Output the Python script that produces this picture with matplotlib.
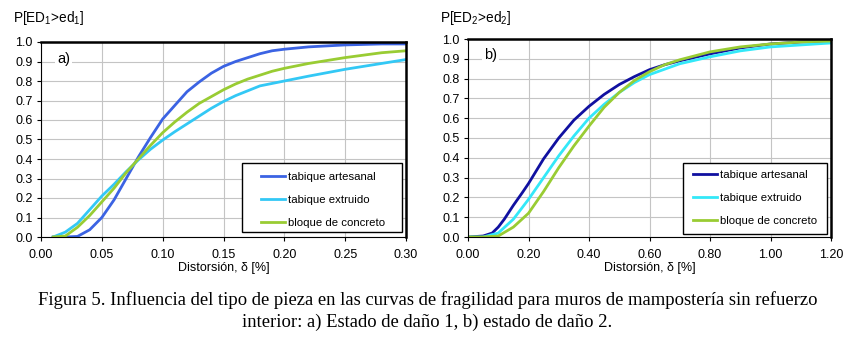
import matplotlib
matplotlib.use("Agg")
import matplotlib.pyplot as plt
from matplotlib.ticker import MultipleLocator, FormatStrFormatter
from matplotlib.patches import Rectangle

plt.rcParams['font.family'] = ['Liberation Sans', 'DejaVu Sans']
plt.rcParams['mathtext.fontset'] = 'custom'
plt.rcParams['mathtext.rm'] = 'Liberation Sans'
plt.rcParams['mathtext.it'] = 'Liberation Sans'

# Panel a) damage state 1
xa_art = [0.01, 0.02, 0.03, 0.04, 0.05, 0.06, 0.07, 0.08, 0.09, 0.10, 0.11, 0.12, 0.13, 0.14,
          0.15, 0.16, 0.17, 0.18, 0.19, 0.20, 0.22, 0.25, 0.28, 0.30]
ya_art = [0.0, 0.0, 0.003, 0.037, 0.10, 0.19, 0.30, 0.41, 0.51, 0.605, 0.675, 0.745, 0.795, 0.84,
          0.875, 0.90, 0.92, 0.94, 0.955, 0.963, 0.975, 0.985, 0.99, 0.99]
xa_ext = [0.01, 0.02, 0.03, 0.04, 0.05, 0.06, 0.07, 0.08, 0.09, 0.10, 0.11, 0.12, 0.13, 0.14,
          0.15, 0.16, 0.17, 0.18, 0.20, 0.22, 0.25, 0.28, 0.30]
ya_ext = [0.0, 0.025, 0.07, 0.14, 0.21, 0.27, 0.335, 0.395, 0.45, 0.497, 0.54, 0.58, 0.62, 0.66,
          0.695, 0.725, 0.75, 0.775, 0.80, 0.825, 0.86, 0.89, 0.91]
xa_blq = [0.01, 0.02, 0.03, 0.04, 0.05, 0.06, 0.07, 0.08, 0.09, 0.10, 0.11, 0.12, 0.13, 0.14,
          0.15, 0.16, 0.17, 0.18, 0.19, 0.20, 0.22, 0.25, 0.28, 0.30]
ya_blq = [0.0, 0.005, 0.05, 0.11, 0.18, 0.25, 0.33, 0.40, 0.47, 0.535, 0.59, 0.64, 0.685, 0.72,
          0.755, 0.785, 0.81, 0.83, 0.85, 0.865, 0.89, 0.92, 0.945, 0.955]

# Panel b) damage state 2
xb_art = [0.0, 0.05, 0.08, 0.10, 0.12, 0.15, 0.18, 0.20, 0.25, 0.30, 0.35, 0.40, 0.45, 0.50,
          0.55, 0.60, 0.65, 0.70, 0.80, 0.90, 1.00, 1.10, 1.20]
yb_art = [0.0, 0.005, 0.02, 0.05, 0.09, 0.16, 0.225, 0.27, 0.395, 0.50, 0.59, 0.66, 0.72, 0.77,
          0.81, 0.845, 0.87, 0.89, 0.925, 0.955, 0.975, 0.985, 0.99]
xb_ext = [0.0, 0.05, 0.10, 0.15, 0.20, 0.25, 0.30, 0.35, 0.40, 0.45, 0.50, 0.55, 0.60, 0.70,
          0.80, 0.90, 1.00, 1.10, 1.20]
yb_ext = [0.0, 0.0, 0.02, 0.09, 0.19, 0.30, 0.41, 0.51, 0.60, 0.67, 0.73, 0.78, 0.82, 0.875,
          0.91, 0.94, 0.96, 0.97, 0.98]
xb_blq = [0.0, 0.05, 0.10, 0.15, 0.20, 0.25, 0.30, 0.35, 0.40, 0.45, 0.50, 0.55, 0.60, 0.65,
          0.70, 0.80, 0.90, 1.00, 1.10, 1.20]
yb_blq = [0.0, 0.0, 0.005, 0.05, 0.12, 0.23, 0.35, 0.46, 0.56, 0.655, 0.73, 0.79, 0.835, 0.87,
          0.895, 0.935, 0.96, 0.975, 0.985, 0.99]

labels = ["tabique artesanal", "tabique extruido", "bloque de concreto"]
colors_a = ["#3B63E3", "#33C8F5", "#99CC33"]
colors_b = ["#1010A0", "#33E8F8", "#99CC33"]

W, H = 855, 337
fig = plt.figure(figsize=(8.55, 3.37), dpi=100)
axa = fig.add_axes([41/W, 1-237/H, 365/W, 195/H])
axb = fig.add_axes([468/W, 1-237/H, 363/W, 198/H])

def style(ax, xmax, xstep, fmt):
    ax.set_xlim(0, xmax)
    ax.set_ylim(0, 1.0)
    ax.xaxis.set_major_locator(MultipleLocator(xstep))
    ax.yaxis.set_major_locator(MultipleLocator(0.1))
    ax.xaxis.set_major_formatter(FormatStrFormatter(fmt))
    ax.yaxis.set_major_formatter(FormatStrFormatter('%.1f'))
    ax.grid(True, color='#C4C4C4', lw=0.8)
    ax.set_axisbelow(True)
    ax.tick_params(labelsize=9, length=3, width=0.8, color='black', pad=3)
    ax.tick_params(axis='x', pad=6)
    for s in ax.spines.values():
        s.set_color('black')
        s.set_linewidth(0.8)
    ax.spines['top'].set_linewidth(1.8)
    ax.spines['right'].set_linewidth(1.8)
    ax.set_xlabel("Distorsión, δ [%]", fontsize=9, labelpad=0)

data_a = [(xa_art, ya_art), (xa_ext, ya_ext), (xa_blq, ya_blq)]
data_b = [(xb_art, yb_art), (xb_ext, yb_ext), (xb_blq, yb_blq)]

for (x, y), c, l in zip(data_a, colors_a, labels):
    axa.plot(x, y, color=c, lw=2.0, label=l)
for (x, y), c, l in zip(data_b, colors_b, labels):
    axb.plot(x, y, color=c, lw=2.0, label=l)

style(axa, 0.30, 0.05, '%.2f')
style(axb, 1.20, 0.2, '%.2f')

axa.text(0.044, 0.913, "a)", transform=axa.transAxes, fontsize=10.5, va='center', ha='left',
         bbox=dict(facecolor='white', edgecolor='none', pad=1.5))
axb.text(0.044, 0.919, "b)", transform=axb.transAxes, fontsize=10.5, va='center', ha='left',
         bbox=dict(facecolor='white', edgecolor='none', pad=1.5))

# legend boxes (pixel layout) : box left, top, right, bottom, handle x, first row center y
leg_layout = [(axa, (242, 163, 402, 232), 261, 178), (axb, (683, 163, 827, 234), 693, 176)]
for ax, (l, t, r, b), hx, ry in leg_layout:
    ax.add_patch(Rectangle((l/W, 1-b/H), (r-l)/W, (b-t)/H, transform=fig.transFigure,
                           facecolor='white', edgecolor='black', lw=1.0, zorder=4, clip_on=False))
    leg = ax.legend(loc='upper left', bbox_to_anchor=(hx/W, 1-(ry-6)/H), bbox_transform=fig.transFigure,
                    fontsize=8.2, frameon=False, handlelength=2.1, handletextpad=0.3,
                    labelspacing=1.15, borderpad=0, borderaxespad=0)
    leg.set_zorder(5)

fig.text(13/W, 1-18/H, r"P[ED$_1$>ed$_1$]", fontsize=9.8, va='center', ha='left')
fig.text(440/W, 1-18/H, r"P[ED$_2$>ed$_2$]", fontsize=9.8, va='center', ha='left')

cap_font = ['Liberation Serif', 'DejaVu Serif']
fig.text(0.5, 1-300/H, "Figura 5. Influencia del tipo de pieza en las curvas de fragilidad para muros de mampostería sin refuerzo",
         ha='center', va='center', fontsize=13.4, family=cap_font)
fig.text(0.5, 1-322/H, "interior: a) Estado de daño 1, b) estado de daño 2.",
         ha='center', va='center', fontsize=13.4, family=cap_font)

fig.savefig("out.png", dpi=100, facecolor='white')
